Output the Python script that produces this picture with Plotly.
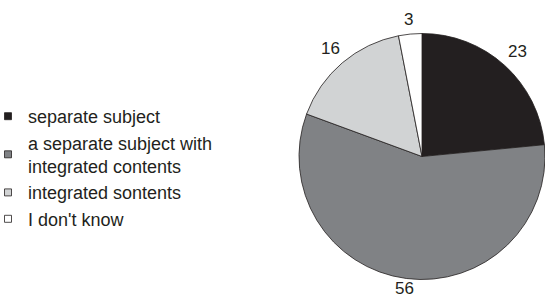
import numpy as np
import plotly.graph_objects as go

categories = ["separate subject",
              "a separate subject with<br>integrated contents",
              "integrated sontents",
              "I don't know"]
values = [23, 56, 16, 3]
colors = ["#231f20", "#808285", "#d1d3d4", "#ffffff"]

FONT = "Liberation Sans, Arial, sans-serif"
INK = "#231f20"
W, H = 545, 297
pie_domain = dict(x=[299 / W, 1.0], y=[17 / H, 264 / H])

# pie geometry in pixels (follows from the domain above)
cx = W * (pie_domain["x"][0] + pie_domain["x"][1]) / 2
cy = H * (1 - (pie_domain["y"][0] + pie_domain["y"][1]) / 2)
R = min(W * (pie_domain["x"][1] - pie_domain["x"][0]), H * (pie_domain["y"][1] - pie_domain["y"][0])) / 2

# value labels placed just outside each slice, along its mid-angle
vals = np.array(values, dtype=float)
mid = np.radians((np.cumsum(vals) - vals / 2) / vals.sum() * 360)
FS = 17
annotations = []
for v, a in zip(values, mid):
    w = 0.556 * FS * len(str(v))
    h = 0.72 * FS
    rl = R + 8 + (abs(np.sin(a)) * w + abs(np.cos(a)) * h) / 2
    px = cx + rl * np.sin(a)
    py = min(cy - rl * np.cos(a), H - 9)
    annotations.append(dict(x=px / W, y=1 - py / H, xref="paper", yref="paper",
                            text=str(v), showarrow=False, xanchor="center", yanchor="middle",
                            font=dict(size=FS, color=INK, family=FONT)))

fig = go.Figure()
fig.add_trace(go.Pie(
    labels=categories, values=values, sort=False, direction="clockwise", rotation=0,
    marker=dict(colors=colors, line=dict(color=INK, width=0.8)),
    textinfo="none", showlegend=False, hoverinfo="label+value",
    domain=pie_domain,
))
# legend entries
for name, col in zip(categories, colors):
    fig.add_trace(go.Scatter(
        x=[None], y=[None], mode="markers", name=name,
        marker=dict(symbol="square", size=7, color=col, line=dict(color=INK, width=0.8)),
    ))

fig.update_layout(
    width=W, height=H,
    margin=dict(l=0, r=0, t=0, b=0, autoexpand=False),
    paper_bgcolor="white", plot_bgcolor="rgba(0,0,0,0)",
    font=dict(family=FONT, size=18, color=INK),
    xaxis=dict(visible=False), yaxis=dict(visible=False),
    annotations=annotations,
    legend=dict(x=-12 / W, xanchor="left", y=1 - 98 / H, yanchor="top",
                bgcolor="rgba(0,0,0,0)", font=dict(size=18, color=INK),
                tracegroupgap=0),
)
fig.write_html("out.html", config={"displayModeBar": False},
               post_script="document.body.style.margin='0';document.body.style.overflow='hidden';")
